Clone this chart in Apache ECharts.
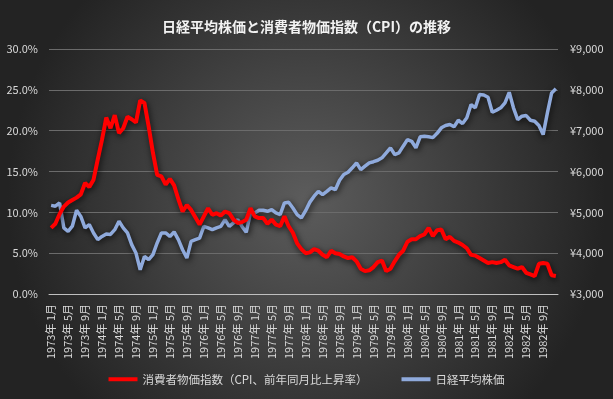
<!DOCTYPE html>
<html>
<head>
<meta charset="utf-8">
<script src="https://cdn.jsdelivr.net/npm/echarts@6/dist/echarts.min.js"></script>
<style>
  html, body { margin: 0; padding: 0; background: #2a2a2a; }
  #myChart { width: 613px; height: 399px; }
</style>
</head>
<body>
<div id="myChart"></div>
<script>
// 1973年1月 〜 1982年12月 (monthly)
const startYear = 1973;
const yearCount = 10;

// 消費者物価指数（前年同月比, %）
const cpi = [
  8.1, 8.6, 9.8, 10.7, 11.2, 11.5, 11.8, 12.2, 13.6, 13.1, 14.0, 16.5,
  18.9, 21.6, 20.3, 21.9, 19.7, 20.3, 21.7, 21.4, 21.0, 23.7, 23.4, 20.5,
  17.3, 14.6, 14.4, 13.4, 14.1, 13.3, 11.6, 10.1, 10.9, 10.3, 9.4, 8.5,
  9.5, 10.5, 9.7, 9.9, 9.6, 10.1, 9.9, 9.1, 8.7, 8.8, 9.1, 10.5,
  9.5, 9.3, 9.3, 8.6, 9.1, 8.5, 8.3, 9.5, 8.3, 7.5, 6.2, 5.5,
  5.0, 5.1, 5.5, 5.3, 4.8, 4.5, 5.3, 5.0, 4.9, 4.6, 4.4, 4.5,
  4.0, 3.1, 2.8, 2.9, 3.3, 3.9, 4.1, 2.8, 3.1, 4.0, 4.8, 5.3,
  6.4, 6.7, 6.7, 7.1, 7.3, 8.1, 7.1, 7.8, 7.9, 6.7, 7.0, 6.5,
  6.3, 6.0, 5.6, 4.8, 4.7, 4.4, 4.1, 3.8, 3.9, 3.8, 3.9, 4.2,
  3.5, 3.3, 3.1, 3.3, 2.6, 2.4, 2.2, 3.7, 3.8, 3.7, 2.3, 2.2
];

// 日経平均株価 (円)
const nikkei = [
  5170, 5150, 5230, 4620, 4535, 4660, 5050, 4900, 4620, 4700, 4495, 4330,
  4410, 4470, 4460, 4575, 4780, 4620, 4495, 4210, 4005, 3595, 3920, 3840,
  3965, 4250, 4495, 4495, 4410, 4520, 4330, 4085, 3880, 4290, 4330, 4370,
  4655, 4620, 4575, 4620, 4655, 4820, 4655, 4740, 4820, 4655, 4510, 4985,
  4985, 5050, 5050, 5025, 5065, 4985, 4945, 5230, 5245, 5105, 4945, 4865,
  5040, 5250, 5395, 5515, 5435, 5515, 5600, 5555, 5785, 5925, 5980, 6090,
  6210, 6045, 6130, 6210, 6240, 6275, 6335, 6455, 6580, 6415, 6455, 6620,
  6780, 6740, 6580, 6850, 6865, 6850, 6830, 6935, 7070, 7125, 7150, 7095,
  7255, 7175, 7315, 7640, 7560, 7885, 7875, 7820, 7450, 7500, 7560, 7680,
  7940, 7560, 7270, 7355, 7370, 7255, 7230, 7125, 6905, 7435, 7925, 8025
];

const months = [];
for (let y = 0; y < yearCount; y++) {
  for (let m = 1; m <= 12; m++) {
    months.push((startYear + y) + '年 ' + m + '月');
  }
}

const font = '"Noto Sans CJK JP", "Noto Sans", sans-serif';
const labelColor = '#d9d9d9';

const mychart = echarts.init(document.getElementById('myChart'));
const options = {
  backgroundColor: {
    type: 'radial',
    x: 0.5,
    y: 0.5,
    r: 0.75,
    colorStops: [
      { offset: 0, color: '#5c5c5c' },
      { offset: 1, color: '#232323' },
    ],
  },
  textStyle: {
    fontFamily: font,
  },
  title: {
    text: '日経平均株価と消費者物価指数（CPI）の推移',
    left: 'center',
    top: 15,
    textStyle: {
      color: '#f2f2f2',
      fontSize: 14,
      fontWeight: 'bold',
      fontFamily: font,
    },
  },
  legend: {
    bottom: 9,
    left: 'center',
    itemWidth: 29,
    itemHeight: 4,
    itemGap: 34,
    icon: 'rect',
    textStyle: {
      color: labelColor,
      fontSize: 11.5,
      fontFamily: font,
    },
    data: ['消費者物価指数（CPI、前年同月比上昇率）', '日経平均株価'],
  },
  grid: {
    left: 49,
    right: 55,
    top: 49,
    bottom: 105,
  },
  xAxis: [
    {
      type: 'category',
      data: months,
      boundaryGap: true,
      axisTick: {
        show: false,
      },
      axisLine: {
        lineStyle: { color: '#bfbfbf', width: 1 },
      },
      axisLabel: {
        interval: 3,
        rotate: 90,
        margin: 10,
        color: labelColor,
        fontSize: 11,
        fontFamily: font,
      },
    },
  ],
  yAxis: [
    {
      type: 'value',
      min: 0,
      max: 30,
      interval: 5,
      axisLabel: {
        color: labelColor,
        fontSize: 11,
        margin: 11,
        formatter: (v) => v.toFixed(1) + '%',
      },
      splitLine: {
        lineStyle: { color: '#6b6b6b', width: 1 },
      },
      axisLine: { show: false },
      axisTick: { show: false },
    },
    {
      type: 'value',
      min: 3000,
      max: 9000,
      interval: 1000,
      position: 'right',
      axisLabel: {
        color: labelColor,
        fontSize: 11,
        margin: 12,
        formatter: (v) => '¥' + v.toLocaleString('en-US'),
      },
      splitLine: { show: false },
      axisLine: { show: false },
      axisTick: { show: false },
    },
  ],
  series: [
    {
      name: '消費者物価指数（CPI、前年同月比上昇率）',
      type: 'line',
      yAxisIndex: 0,
      data: cpi,
      color: '#ff0000',
      symbol: 'none',
      lineStyle: {
        width: 4,
        color: '#ff0000',
        shadowColor: 'rgba(0,0,0,0.75)',
        shadowBlur: 6,
        shadowOffsetX: 1,
        shadowOffsetY: 2,
      },
      z: 3,
    },
    {
      name: '日経平均株価',
      type: 'line',
      yAxisIndex: 1,
      data: nikkei,
      color: '#8faadc',
      symbol: 'none',
      lineStyle: {
        width: 3.5,
        color: '#8faadc',
        shadowColor: 'rgba(0,0,0,0.75)',
        shadowBlur: 6,
        shadowOffsetX: 1,
        shadowOffsetY: 2,
      },
      z: 2,
    },
  ],
};
mychart.setOption(options);
</script>
</body>
</html>
